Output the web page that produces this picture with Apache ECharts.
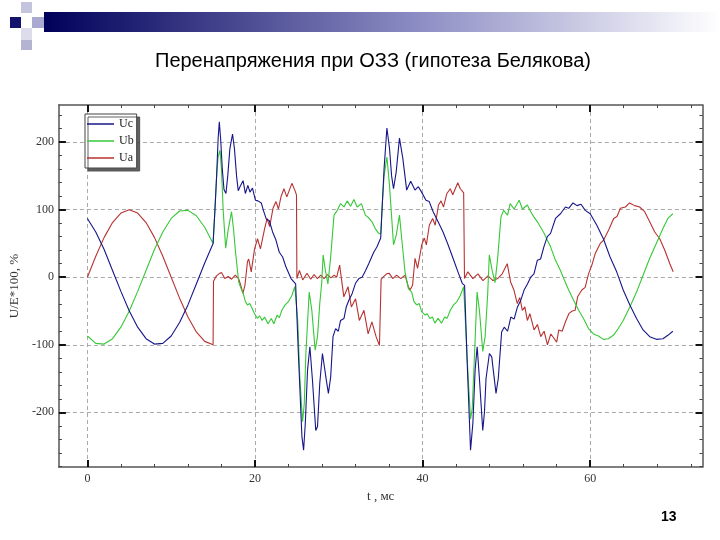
<!DOCTYPE html>
<html>
<head>
<meta charset="utf-8">
<script src="https://cdn.jsdelivr.net/npm/echarts@6/dist/echarts.min.js"></script>
<style>
html,body{margin:0;padding:0;background:#fff;}
#chart{width:720px;height:540px;}
</style>
</head>
<body>
<div id="chart"></div>
<script>
// ---- tick labels / categories ----
const xMajorTicks = [0, 20, 40, 60];
const xMinorTicks = [4, 8, 12, 16, 24, 28, 32, 36, 44, 48, 52, 56, 64, 68, 72];
const yMajorTicks = [-200, -100, 0, 100, 200];
const yMinorTicks = [-280, -260, -240, -220, -180, -160, -140, -120, -80, -60, -40, -20, 20, 40, 60, 80, 120, 140, 160, 180, 220, 240];
const seriesNames = ['Uc', 'Ub', 'Ua'];

// ---- Ua (red) : [t ms, U/E*100 %] ----
const uaPre = [[0,0],[1,31],[2,59],[3,81],[4,95],[5,100],[6,95],[7,81],[8,59],[9,31],[10,0],[11,-31],[12,-59],[13,-81],[14,-95],[15,-100]];
const uaFault1 = [[15.05,-6],[15.4,2],[15.7,5],[16.0,7],[16.4,-2],[16.8,1],[17.2,-3],[17.65,3],[18.05,-2],[18.35,-14],[18.55,-24],[18.8,-12],[19.1,23],[19.25,27],[19.55,8],[19.95,42],[20.3,57],[20.65,42],[21.15,72],[21.45,87],[21.75,75],[22.15,102],[22.5,112],[22.8,101],[23.1,119],[23.45,131],[23.8,119],[24.4,139],[24.75,129],[24.95,122],[25.0,-2],[25.3,10],[25.7,-4],[26.2,6],[26.65,-3],[27.05,4],[27.45,-2],[27.85,3],[28.25,-2],[28.65,4],[29.05,-1],[29.45,3],[29.75,0],[30.1,18],[30.6,-29],[31.1,-14],[31.5,-44],[32.0,-32],[32.45,-64],[33.0,-49],[33.5,-84],[33.95,-66],[34.45,-88],[34.85,-101],[35.0,-100]];
const uaFault2 = [[35.05,-3],[35.35,1],[35.7,5],[36.0,6],[36.45,-2],[36.9,3],[37.4,-2],[37.9,3],[38.3,-14],[38.5,-19],[38.8,-12],[39.1,28],[39.4,13],[39.9,48],[40.2,58],[40.45,48],[40.8,77],[41.2,87],[41.5,77],[41.9,107],[42.2,113],[42.5,104],[42.9,124],[43.3,131],[43.6,122],[44.2,140],[44.5,131],[44.9,125],[45.0,-2],[45.4,8],[46.0,-2],[46.6,5],[47.2,-5],[47.8,2],[48.4,-5],[48.95,-2],[49.5,5],[50.1,20],[50.5,-7],[50.9,-19],[51.3,-39],[51.6,-30],[51.9,-49],[52.2,-44],[52.5,-64],[52.8,-54],[53.3,-78],[53.7,-70],[54.1,-88],[54.5,-80],[54.9,-100],[55.3,-84],[55.65,-90],[56.0,-96],[56.25,-78],[56.65,-80],[57.05,-66],[57.45,-54],[57.85,-50],[58.2,-49],[58.5,-29],[59.0,-19],[59.4,-15],[59.8,5],[60.2,18],[60.6,35],[61.2,50],[61.6,55],[62.2,70],[62.8,87],[63.2,90],[63.6,102],[64.2,104],[64.7,110],[65.3,106],[65.9,104],[66.5,97],[67.1,82],[67.7,67],[68.3,57],[68.9,40],[69.5,20],[69.9,8]];

// ---- Ub (green) ----
const ubPre = [[0,-87],[1,-98],[2,-99],[3,-91],[4,-74],[5,-50],[6,-21],[7,10],[8,41],[9,67],[10,87],[11,98],[12,99],[13,91],[14,74],[15,50]];
const ubFault1 = [[15.2,95],[15.42,150],[15.6,178],[15.82,188],[16.0,160],[16.2,100],[16.5,43],[16.8,70],[17.2,97],[17.45,70],[17.67,38],[18.05,-7],[18.35,-17],[18.6,-24],[18.85,-36],[19.1,-41],[19.37,-39],[19.65,-46],[19.95,-54],[20.3,-61],[20.55,-57],[20.85,-64],[21.15,-59],[21.55,-69],[21.95,-61],[22.25,-69],[22.65,-56],[22.9,-60],[23.2,-49],[23.6,-41],[24.0,-36],[24.4,-27],[24.75,-14],[24.95,-12],[25.1,-64],[25.35,-148],[25.68,-214],[25.88,-187],[26.07,-113],[26.47,-22],[26.78,-49],[27.18,-108],[27.46,-88],[27.73,-39],[27.96,-9],[28.13,33],[28.4,10],[28.7,-10],[29.03,30],[29.43,92],[29.82,99],[30.21,109],[30.62,104],[31.0,113],[31.4,105],[31.8,115],[32.19,104],[32.7,109],[33.17,92],[33.57,88],[33.96,82],[34.35,72],[34.75,65],[35.0,64]];
const ubFault2 = [[35.2,110],[35.4,150],[35.74,178],[36.05,136],[36.53,48],[36.85,62],[37.24,92],[37.51,57],[37.9,8],[38.3,-17],[38.7,-22],[38.97,-36],[39.29,-41],[39.6,-39],[39.88,-51],[40.3,-56],[40.55,-54],[40.87,-61],[41.18,-59],[41.46,-68],[41.85,-61],[42.25,-68],[42.64,-59],[42.92,-61],[43.3,-49],[43.7,-41],[44.1,-36],[44.5,-27],[44.9,-14],[45.0,-12],[45.4,-139],[45.72,-210],[45.92,-195],[46.2,-113],[46.5,-22],[46.78,-49],[47.18,-110],[47.46,-88],[47.77,-24],[47.96,33],[48.3,10],[48.64,-8],[48.95,27],[49.35,89],[49.66,99],[50.14,92],[50.45,109],[50.92,101],[51.52,114],[51.92,101],[52.5,107],[52.9,97],[53.3,89],[53.7,82],[54.08,74],[54.5,65],[54.88,55],[55.27,45],[55.86,25],[56.45,10],[56.84,-2],[57.43,-19],[58.02,-34],[58.62,-49],[59.2,-61],[59.8,-76],[60.39,-84],[60.98,-87],[61.57,-92],[62.17,-91],[62.76,-86],[63.35,-76],[63.94,-64],[64.73,-44],[65.53,-22],[66.31,3],[67.1,28],[67.89,50],[68.68,72],[69.27,87],[69.86,94]];

// ---- Uc (navy) ----
const ucPre = [[0,87],[1,67],[2,41],[3,10],[4,-21],[5,-50],[6,-74],[7,-91],[8,-99],[9,-98],[10,-87],[11,-67],[12,-41],[13,-10],[14,21],[15,50]];
const ucFault1 = [[15.2,95],[15.42,150],[15.6,205],[15.74,230],[15.9,205],[16.1,160],[16.3,130],[16.53,124],[16.75,150],[17.0,190],[17.32,212],[17.55,190],[17.8,150],[18.0,128],[18.25,135],[18.58,143],[18.85,124],[19.15,136],[19.4,126],[19.7,132],[20.05,114],[20.35,113],[20.75,110],[21.0,99],[21.35,86],[21.7,84],[22.1,67],[22.5,55],[22.9,37],[23.3,30],[23.7,15],[24.3,-2],[24.85,-10],[25.2,-120],[25.6,-236],[25.8,-256],[26.0,-217],[26.27,-138],[26.55,-103],[26.86,-153],[27.25,-227],[27.46,-221],[27.73,-157],[28.05,-113],[28.25,-115],[28.52,-153],[28.76,-172],[29.03,-148],[29.31,-88],[29.62,-76],[29.94,-80],[30.21,-64],[30.62,-61],[30.89,-44],[31.2,-34],[31.6,-24],[31.99,-9],[32.39,-2],[32.78,0],[33.2,10],[33.57,20],[34.17,37],[34.56,45],[35.0,58]];
const ucFault2 = [[35.2,110],[35.4,160],[35.74,221],[36.05,191],[36.3,150],[36.53,131],[36.85,156],[37.24,206],[37.64,176],[38.1,129],[38.58,142],[39.09,129],[39.49,134],[39.88,126],[40.4,114],[40.79,112],[41.26,97],[41.85,82],[42.44,67],[43.04,48],[43.63,28],[44.22,8],[44.73,-9],[45.01,-12],[45.3,-120],[45.72,-256],[46.0,-216],[46.27,-137],[46.51,-103],[46.78,-150],[47.18,-227],[47.38,-200],[47.57,-150],[47.97,-113],[48.25,-118],[48.76,-172],[49.03,-150],[49.43,-81],[49.74,-74],[50.14,-80],[50.53,-59],[50.92,-62],[51.32,-44],[51.72,-34],[52.11,-19],[52.51,-10],[52.9,0],[53.29,5],[53.69,25],[54.08,27],[54.47,45],[54.88,60],[55.27,65],[55.86,87],[56.45,94],[57.04,104],[57.43,102],[57.95,110],[58.43,106],[58.9,108],[59.41,99],[60.0,94],[60.79,77],[61.57,57],[62.37,30],[63.16,8],[63.94,-19],[64.73,-41],[65.53,-61],[66.31,-78],[67.1,-88],[67.89,-92],[68.68,-91],[69.27,-86],[69.86,-80]];

const uaData = uaPre.concat(uaFault1, uaFault2);
const ubData = ubPre.concat(ubFault1, ubFault2);
const ucData = ucPre.concat(ucFault1, ucFault2);

const SERIF = 'Liberation Serif';
const X_MIN = -3.4, X_MAX = 73.4, Y_MIN = -281, Y_MAX = 255;

function frameLine(major) {
  return major ? {show: true, onZero: false, lineStyle: {color: '#555', width: 1.5}} : {show: false, onZero: false};
}

function xAxisDef(pos, major, withLabels) {
  return {
    type: 'value', position: pos, min: X_MIN, max: X_MAX,
    axisLine: frameLine(major),
    axisTick: {show: true, inside: true, length: major ? 7 : 3,
      customValues: major ? xMajorTicks : xMinorTicks,
      lineStyle: {color: major ? '#111' : '#444', width: major ? 2 : 1}},
    axisLabel: withLabels ? {show: true, customValues: xMajorTicks, fontFamily: SERIF, fontSize: 12, color: '#333', margin: 6} : {show: false},
    splitLine: (major && withLabels) ? {show: true, lineStyle: {color: '#aaa', type: [4, 3], width: 1}} : {show: false},
    name: withLabels ? 't , мс' : '', nameLocation: 'middle', nameGap: 18,
    nameTextStyle: {fontFamily: SERIF, fontSize: 13, color: '#333'}
  };
}
function yAxisDef(pos, major, withLabels) {
  return {
    type: 'value', position: pos, min: Y_MIN, max: Y_MAX,
    axisLine: frameLine(major),
    axisTick: {show: true, inside: true, length: major ? 7 : 3,
      customValues: major ? yMajorTicks : yMinorTicks,
      lineStyle: {color: major ? '#111' : '#444', width: major ? 2 : 1}},
    axisLabel: withLabels ? {show: true, customValues: yMajorTicks, fontFamily: SERIF, fontSize: 12, color: '#333', margin: 5} : {show: false},
    splitLine: (major && withLabels) ? {show: true, lineStyle: {color: '#aaa', type: [4, 3], width: 1}} : {show: false},
    name: withLabels ? 'U/E*100, %' : '', nameLocation: 'middle', nameGap: 36, nameRotate: 90,
    nameTextStyle: {fontFamily: SERIF, fontSize: 13, color: '#333'}
  };
}

const chart = echarts.init(document.getElementById('chart'), null, {renderer: 'canvas'});
chart.setOption({
  backgroundColor: '#fff',
  animation: false,
  title: {text: 'Перенапряжения при ОЗЗ (гипотеза Белякова)', left: 150, top: 46,
    textStyle: {fontFamily: 'Liberation Sans', fontSize: 20, fontWeight: 'normal', color: '#000'}},
  grid: {left: 54, right: 17.5, top: 105, bottom: 73, containLabel: false},
  xAxis: [xAxisDef('bottom', true, true), xAxisDef('bottom', false, false), xAxisDef('top', true, false), xAxisDef('top', false, false)],
  yAxis: [yAxisDef('left', true, true), yAxisDef('left', false, false), yAxisDef('right', true, false), yAxisDef('right', false, false)],
  legend: {
    orient: 'vertical', left: 85, top: 114, data: seriesNames,
    icon: 'rect', itemWidth: 27, itemHeight: 1.5, itemGap: 3, padding: [3, 3, 3, 2],
    backgroundColor: '#fff', borderColor: '#444', borderWidth: 1,
    shadowColor: 'rgba(70,70,70,0.85)', shadowOffsetX: 3, shadowOffsetY: 3, shadowBlur: 0,
    textStyle: {fontFamily: SERIF, fontSize: 12, color: '#222', lineHeight: 14}
  },
  graphic: [
    {type: 'rect', shape: {x: 44, y: 12, width: 676, height: 20}, silent: true,
      style: {fill: new echarts.graphic.LinearGradient(0, 0, 1, 0, [{offset: 0, color: '#00005a'}, {offset: 0.55, color: '#8c8cc4'}, {offset: 1, color: '#ffffff'}])}},
    {type: 'rect', shape: {x: 10, y: 17, width: 11, height: 11}, style: {fill: '#14146e'}},
    {type: 'rect', shape: {x: 21, y: 2, width: 11, height: 11}, style: {fill: '#c4c4de'}},
    {type: 'rect', shape: {x: 32, y: 17, width: 12, height: 11}, style: {fill: '#a9a9d2'}},
    {type: 'rect', shape: {x: 21, y: 28, width: 11, height: 12}, style: {fill: '#dcdcec'}},
    {type: 'rect', shape: {x: 21, y: 40, width: 11, height: 10}, style: {fill: '#b4b4d2'}},
    {type: 'text', left: 661, top: 510, style: {text: '13', fontFamily: 'Liberation Sans', fontSize: 14, fontWeight: 'bold', fill: '#000'}}
  ],
  series: [
    {name: 'Ua', type: 'line', data: uaData, showSymbol: false, symbol: 'none', lineStyle: {color: '#b83232', width: 1.1}, itemStyle: {color: '#b83232'}},
    {name: 'Ub', type: 'line', data: ubData, showSymbol: false, symbol: 'none', lineStyle: {color: '#36c836', width: 1.1}, itemStyle: {color: '#36c836'}},
    {name: 'Uc', type: 'line', data: ucData, showSymbol: false, symbol: 'none', lineStyle: {color: '#16168a', width: 1.1}, itemStyle: {color: '#16168a'}}
  ]
});
</script>
</body>
</html>
